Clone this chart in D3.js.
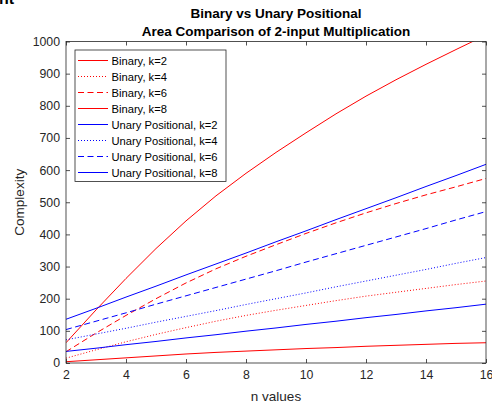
<!DOCTYPE html>
<html>
<head>
<meta charset="utf-8">
<script src="https://cdn.jsdelivr.net/npm/d3@7"></script>
<style>
  body { margin: 0; background: #fff; }
  svg { display: block; font-family: "Liberation Sans", Arial, sans-serif; }
</style>
</head>
<body>
<div id="chart"></div>
<script>
// data
const nValues = [2, 3, 4, 5, 6, 7, 8, 9, 10, 11, 12, 13, 14, 15, 16];

const binaryK2 = [4, 10, 16, 22, 28, 33, 37, 41, 45, 48, 52, 55, 58, 61, 63];
const binaryK4 = [15, 41, 66, 89, 110, 130, 148, 164, 179, 194, 208, 220, 232, 244, 255];
const binaryK6 = [35, 93, 148, 200, 249, 293, 332, 368, 403, 436, 467, 496, 523, 548, 574];
const binaryK8 = [63, 165, 263, 356, 442, 520, 590, 655, 716, 775, 830, 881, 929, 975, 1020];

const unaryK2 = [36, 46, 57, 67, 78, 88, 99, 109, 120, 130, 141, 151, 162, 172, 183];
const unaryK4 = [72, 90, 108, 127, 145, 163, 182, 200, 218, 237, 255, 273, 291, 310, 328];
const unaryK6 = [104, 130, 156, 183, 209, 235, 261, 287, 314, 340, 366, 392, 418, 445, 471];
const unaryK8 = [136, 170, 205, 239, 274, 308, 342, 377, 411, 446, 480, 514, 549, 583, 618];

const seriesNames = [
  "Binary, k=2", "Binary, k=4", "Binary, k=6", "Binary, k=8",
  "Unary Positional, k=2", "Unary Positional, k=4", "Unary Positional, k=6", "Unary Positional, k=8"
];
const xTicks = [2, 4, 6, 8, 10, 12, 14, 16];
const yTicks = [0, 100, 200, 300, 400, 500, 600, 700, 800, 900, 1000];

const W = 492, H = 404;
const MARGIN = { LEFT: 66, RIGHT: 6, TOP: 41.5, BOTTOM: 41 };
const AXIS_COLOR = "#262626";

const series = [
  { name: seriesNames[0], values: binaryK2, color: "#ff0000", dash: null },
  { name: seriesNames[1], values: binaryK4, color: "#ff0000", dash: "1,2" },
  { name: seriesNames[2], values: binaryK6, color: "#ff0000", dash: "6,3.5" },
  { name: seriesNames[3], values: binaryK8, color: "#ff0000", dash: null },
  { name: seriesNames[4], values: unaryK2, color: "#0000ff", dash: null },
  { name: seriesNames[5], values: unaryK4, color: "#0000ff", dash: "1,2" },
  { name: seriesNames[6], values: unaryK6, color: "#0000ff", dash: "6,3.5" },
  { name: seriesNames[7], values: unaryK8, color: "#0000ff", dash: null }
];

const svg = d3.select("#chart").append("svg")
  .attr("width", W)
  .attr("height", H);

const x = d3.scaleLinear().domain([2, 16]).range([MARGIN.LEFT, W - MARGIN.RIGHT]);
const y = d3.scaleLinear().domain([0, 1000]).range([H - MARGIN.BOTTOM, MARGIN.TOP]);

// cut-off text at the very top left of the screenshot
svg.append("text")
  .attr("x", -1)
  .attr("y", 4)
  .style("font-size", "16px")
  .style("font-weight", "bold")
  .text("nt");

svg.append("clipPath").attr("id", "plot-clip")
  .append("rect")
  .attr("x", x.range()[0])
  .attr("y", y.range()[1])
  .attr("width", x.range()[1] - x.range()[0])
  .attr("height", y.range()[0] - y.range()[1]);

// lines
const line = d3.line()
  .x((d, i) => x(nValues[i]))
  .y((d) => y(d));

svg.append("g")
  .attr("clip-path", "url(#plot-clip)")
  .selectAll("path")
  .data(series)
  .enter()
  .append("path")
  .attr("d", (d) => line(d.values))
  .style("fill", "none")
  .style("stroke", (d) => d.color)
  .style("stroke-width", 1)
  .style("stroke-dasharray", (d) => d.dash);

// axes (ticks point inward, box on)
const bottomAxis = svg.append("g")
  .attr("transform", `translate(0, ${y.range()[0]})`)
  .call(d3.axisBottom(x).tickValues(xTicks).tickSize(-4).tickPadding(7));
const topAxis = svg.append("g")
  .attr("transform", `translate(0, ${y.range()[1]})`)
  .call(d3.axisTop(x).tickValues(xTicks).tickSize(-4).tickFormat(""));
const leftAxis = svg.append("g")
  .attr("transform", `translate(${x.range()[0]}, 0)`)
  .call(d3.axisLeft(y).tickValues(yTicks).tickSize(-4).tickPadding(6).tickFormat(d3.format("d")));
const rightAxis = svg.append("g")
  .attr("transform", `translate(${x.range()[1]}, 0)`)
  .call(d3.axisRight(y).tickValues(yTicks).tickSize(-4).tickFormat(""));

[bottomAxis, topAxis, leftAxis, rightAxis].forEach((a) => {
  a.select(".domain").remove();
  a.selectAll("line").attr("stroke", AXIS_COLOR).attr("stroke-width", 0.8);
  a.selectAll("text")
    .attr("fill", AXIS_COLOR)
    .style("font-size", "12.3px")
    .style("font-family", "'Liberation Sans', Arial, sans-serif");
});

svg.append("rect")
  .attr("x", x.range()[0])
  .attr("y", y.range()[1])
  .attr("width", x.range()[1] - x.range()[0])
  .attr("height", y.range()[0] - y.range()[1])
  .style("fill", "none")
  .style("stroke", AXIS_COLOR)
  .style("stroke-width", 0.8);

// title
const title = svg.append("text")
  .attr("text-anchor", "middle")
  .attr("fill", "#000")
  .style("font-size", "13.5px")
  .style("font-weight", "bold");
title.append("tspan").attr("x", (x.range()[0] + x.range()[1]) / 2).attr("y", 18)
  .text("Binary vs Unary Positional");
title.append("tspan").attr("x", (x.range()[0] + x.range()[1]) / 2).attr("y", 36)
  .text("Area Comparison of 2-input Multiplication");

// axis labels
svg.append("text")
  .attr("x", (x.range()[0] + x.range()[1]) / 2)
  .attr("y", 401)
  .attr("text-anchor", "middle")
  .attr("fill", AXIS_COLOR)
  .style("font-size", "13.5px")
  .text("n values");

svg.append("text")
  .attr("transform", `translate(24, ${(y.range()[0] + y.range()[1]) / 2}) rotate(-90)`)
  .attr("text-anchor", "middle")
  .attr("fill", AXIS_COLOR)
  .style("font-size", "13.5px")
  .text("Complexity");

// legend
const legendG = svg.append("g").attr("class", "legendGroup");
legendG.append("rect")
  .attr("x", 75)
  .attr("y", 50)
  .attr("width", 151)
  .attr("height", 131.5)
  .style("fill", "#fff")
  .style("stroke", AXIS_COLOR)
  .style("stroke-width", 0.8);

const legend = legendG.selectAll(".legend")
  .data(series)
  .enter()
  .append("g")
  .attr("class", "legend")
  .attr("transform", (d, i) => `translate(0, ${60.5 + i * 16})`);

legend.append("line")
  .attr("x1", 78)
  .attr("x2", 108)
  .attr("y1", 0)
  .attr("y2", 0)
  .style("stroke", (d) => d.color)
  .style("stroke-width", 1)
  .style("stroke-dasharray", (d) => d.dash);

legend.append("text")
  .attr("x", 111.5)
  .attr("y", 4)
  .attr("fill", "#000")
  .style("font-size", "11.2px")
  .text((d) => d.name);
</script>
</body>
</html>
